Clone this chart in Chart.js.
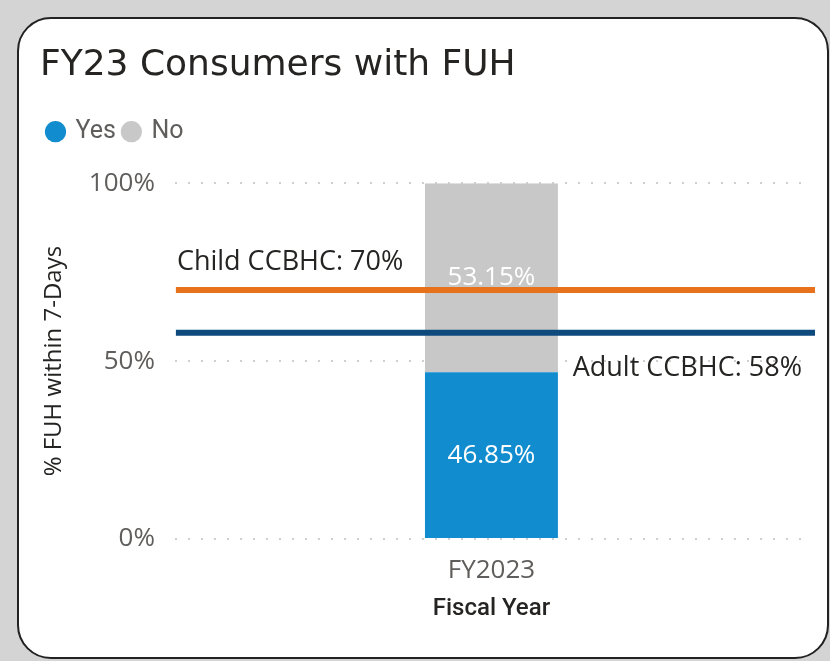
<!DOCTYPE html>
<html>
<head>
<meta charset="utf-8">
<script src="https://cdn.jsdelivr.net/npm/chart.js"></script>
<style>
	body { margin:0; background:#d4d4d4; width:830px; height:661px; overflow:hidden; position:relative; }
	#card { position:absolute; left:17px; top:17px; width:808px; height:638px; background:#fff; border:2px solid #222; border-radius:34px; }
	#mycanvas { position:absolute; left:0; top:0; }
</style>
</head>
<body>
<div id="card"></div>
<canvas id="mycanvas" width="830" height="661"></canvas>
<script>
var categories = ["FY2023"];
var yesValues = [46.85];
var noValues = [53.15];
var thresholdNames = ["Child CCBHC: 70%", "Adult CCBHC: 58%"];
var thresholdValues = [70, 58];
var yTicks = [0, 50, 100];

// extra room under the legend
var legendGap = {
	id: 'legendGap',
	beforeInit: function(chart) {
		var origFit = chart.legend.fit;
		chart.legend.fit = function() {
			origFit.bind(chart.legend)();
			this.height += 29;
		};
	}
};

// reference lines + value labels, placed with the chart's own scales
var extras = {
	id: 'extras',
	afterDatasetsDraw: function(chart) {
		var ctx = chart.ctx;
		var y = chart.scales.y;
		var area = chart.chartArea;

		// bar value labels
		ctx.save();
		ctx.font = '26px "Open Sans"';
		ctx.fillStyle = '#fff';
		ctx.textAlign = 'center';
		ctx.textBaseline = 'middle';
		chart.data.datasets.forEach(function(ds, di) {
			var meta = chart.getDatasetMeta(di);
			meta.data.forEach(function(bar, i) {
				var mid = (bar.y + bar.base) / 2;
				ctx.fillText(ds.data[i].toFixed(2) + '%', bar.x, mid);
			});
		});
		ctx.restore();

		var colors = ['#e8721c', '#0e4a7e'];
		thresholdValues.forEach(function(v, i) {
			var py = y.getPixelForValue(v);
			ctx.save();
			ctx.strokeStyle = colors[i];
			ctx.lineWidth = 6;
			ctx.beginPath();
			ctx.moveTo(area.left + 1, py);
			ctx.lineTo(area.right + 7, py);
			ctx.stroke();
			ctx.font = '27px "Open Sans"';
			ctx.fillStyle = '#252423';
			ctx.textBaseline = 'alphabetic';
			if (i == 0) {
				ctx.textAlign = 'left';
				ctx.fillText(thresholdNames[i], area.left + 2, py - 20);
			} else {
				ctx.textAlign = 'right';
				ctx.fillText(thresholdNames[i], area.right - 6, py + 43);
			}
			ctx.restore();
		});
	}
};

var chartdata = {
	labels: categories,
	datasets: [
		{
			label: "Yes",
			backgroundColor: "#118dcf",
			data: yesValues
		},
		{
			label: "No",
			backgroundColor: "#c8c8c8",
			data: noValues
		}
	]
};

var ctx = document.getElementById("mycanvas");

var BarGraph = new Chart(ctx, {
	type: 'bar',
	data: chartdata,
	plugins: [legendGap, extras],
	options: {
		responsive: false,
		animation: false,
		layout: { padding: { left: 40, right: 22, top: 44, bottom: 34 } },
		datasets: { bar: { categoryPercentage: 1, barPercentage: 0.21 } },
		plugins: {
			tooltip: { enabled: false },
			title: {
				display: true,
				text: "FY23 Consumers with FUH",
				align: 'start',
				color: '#252423',
				font: { family: '"DejaVu Sans"', size: 36, weight: 'normal' },
				padding: { top: 0, bottom: 24 }
			},
			legend: {
				align: 'start',
				labels: {
					usePointStyle: true,
					pointStyle: 'circle',
					boxWidth: 15,
					boxHeight: 15,
					padding: 8,
					color: '#605e5c',
					font: { family: 'Roboto', size: 25 }
				}
			}
		},
		scales: {
			x: {
				stacked: true,
				grid: { display: false },
				border: { display: false },
				ticks: { color: '#605e5c', font: { family: '"Open Sans"', size: 26 }, padding: 8 },
				title: { display: true, text: 'Fiscal Year', color: '#252423', font: { family: 'Roboto', size: 24, weight: '500' }, padding: { top: 0 } }
			},
			y: {
				stacked: true,
				min: 0,
				max: 100,
				afterBuildTicks: function(axis) {
					axis.ticks = yTicks.map(function(v) { return { value: v }; });
				},
				grid: { color: '#cfcfcf', lineWidth: 2, drawTicks: false, tickLength: 0 },
				border: { display: false, dash: [2, 11] },
				ticks: {
					color: '#605e5c',
					font: { family: '"Open Sans"', size: 26 },
					padding: 20,
					callback: function(v) { return v + '%'; }
				},
				title: { display: true, text: '% FUH within 7-Days', color: '#252423', font: { family: '"Open Sans"', size: 24 }, padding: { top: 0, bottom: 0 } }
			}
		}
	}
});
</script>
</body>
</html>
